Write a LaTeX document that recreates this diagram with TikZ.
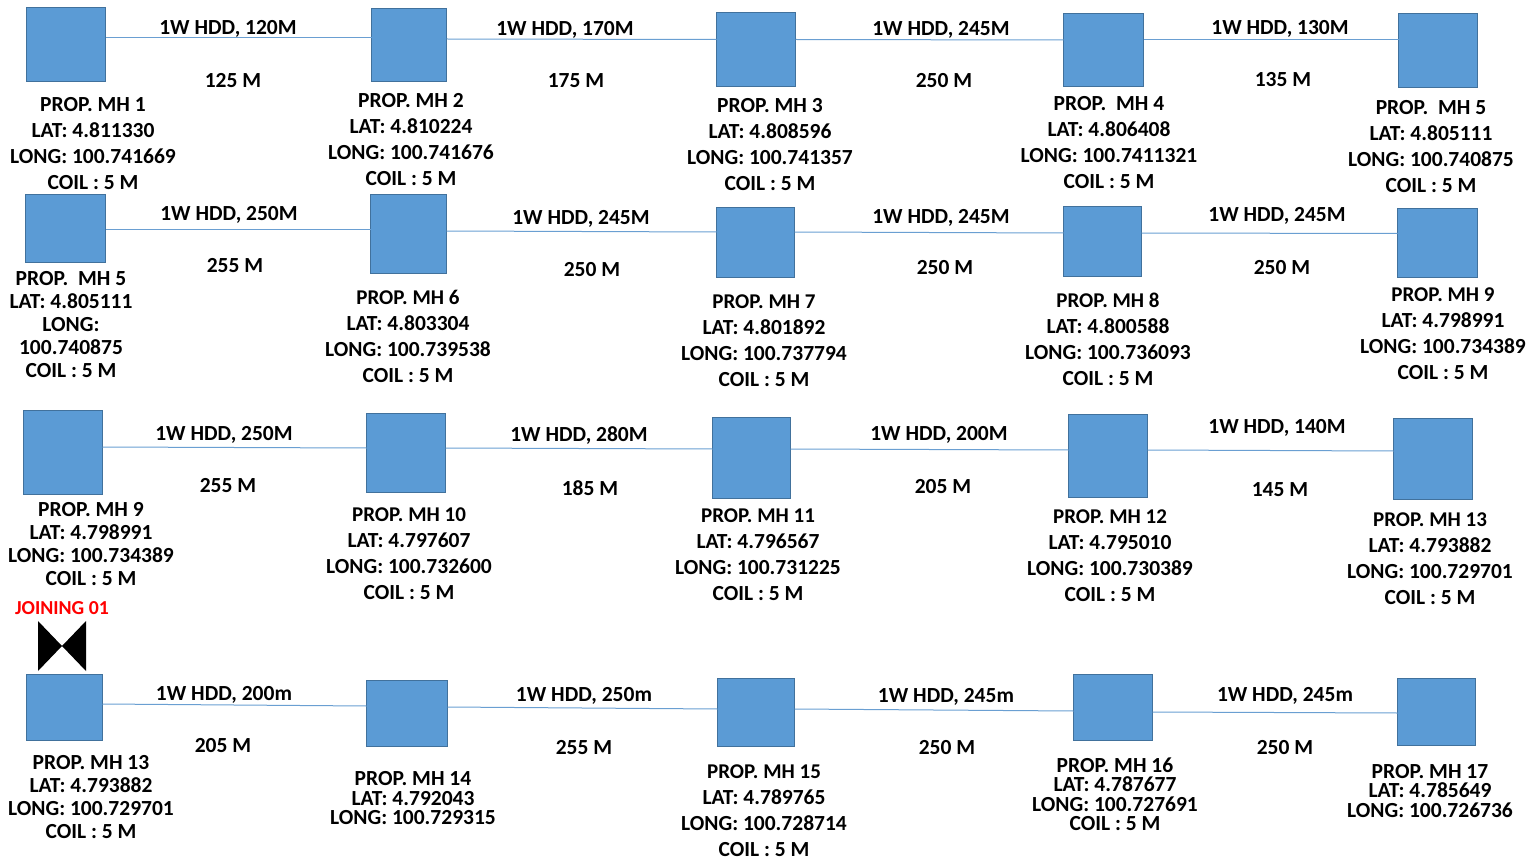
\documentclass[tikz,border=0pt]{standalone}
\usepackage{fontspec}
\setmainfont{Carlito}
\usetikzlibrary{positioning,calc}
\definecolor{mhBlue}{HTML}{5B9BD5}
\definecolor{mhEdge}{HTML}{41719C}
\definecolor{hddLine}{HTML}{6A9FD2}

\begin{document}
\begin{tikzpicture}[x=1pt, y=-1pt,
          mh/.style={draw=mhEdge, line width=1.4pt, fill=mhBlue, inner sep=0pt, outer sep=0pt},
          hdd/.style={draw=hddLine, line width=1pt},
          txt/.style={font=\fontsize{21.5}{24}\bfseries\selectfont, text=black, inner sep=0pt, yshift=-1.5pt},
          mhlabel/.style={font=\fontsize{21.5}{26}\bfseries\selectfont, align=center, inner sep=0pt, yshift=-1pt},
          mhtight/.style={font=\fontsize{21.5}{23}\bfseries\selectfont, align=center, inner sep=0pt, yshift=-1pt},
          mhtighter/.style={font=\fontsize{21.5}{19.5}\bfseries\selectfont, align=center, inner sep=0pt, yshift=-1pt}]
        \useasboundingbox (0,0) rectangle (1532,861);
        % chambers
        \foreach \n/\x/\y/\w/\h in {mha/66/44.5/80/75, mhb/409/45/76/74, mhc/756/49.5/80/75, mhd/1103.5/50/81/74, mhe/1438/50.5/80/75,
            mhf/65.5/228.5/81/69, mhg/408.5/234/77/80, mhh/755.5/242.5/79/71, mhi/1102.5/241.5/79/71, mhj/1437.5/243/81/70,
            mhk/63/452.5/80/85, mhl/406/453/80/80, mhm/751.5/458/79/82, mhn/1108/456/80/84, mho/1433/459/80/82,
            mhp/64.5/707.5/77/67, mhq/407/713.5/82/67, mhr/756/712.5/78/69, mhs/1113/707.5/80/67, mht/1436.5/712/79/68} {
          \node[mh, minimum width=\w pt-1pt, minimum height=\h pt-1pt] (\n) at (\x,\y) {};
        }
        % hdd runs
        \foreach \a/\b/\sa/\sb in {mha/mhb/6.5/7, mhb/mhc/6/10, mhc/mhd/10/10, mhd/mhe/10/10.5,
            mhf/mhg/-1.5/4, mhg/mhh/3/10.5, mhh/mhi/10.5/8.5, mhi/mhj/8.5/9.5,
            mhk/mhl/5.5/5, mhl/mhm/5/9, mhm/mhn/9/6, mhn/mho/6/8,
            mhp/mhq/3.5/7.5, mhq/mhr/6.5/3.5, mhr/mhs/3.5/-3.5, mhs/mht/-4.5/-1} {
          \draw[hdd] ([yshift=\sa pt]\a.east) -- ([yshift=\sb pt]\b.west);
        }
        % run labels
        \foreach \x/\y/\s in {228/27.5/{1W HDD, 120M}, 565/28.5/{1W HDD, 170M}, 941/28.5/{1W HDD, 245M}, 1280/27.5/{1W HDD, 130M},
            229/213.5/{1W HDD, 250M}, 581/217.5/{1W HDD, 245M}, 941/216.5/{1W HDD, 245M}, 1277/214.5/{1W HDD, 245M},
            224/433.5/{1W HDD, 250M}, 579/434.5/{1W HDD, 280M}, 939/433.5/{1W HDD, 200M}, 1277/426.5/{1W HDD, 140M},
            224/693.5/{1W HDD, 200m}, 584/694.5/{1W HDD, 250m}, 946/695.5/{1W HDD, 245m}, 1285/694.5/{1W HDD, 245m},
            233/79.5/125 M, 576/79.5/175 M, 944/79.5/250 M, 1283/78.5/135 M,
            235/264.5/255 M, 592/268.5/250 M, 945/266.5/250 M, 1282/266.5/250 M,
            228/484.5/255 M, 590/486.5/185 M, 943/485.5/205 M, 1280/488.5/145 M,
            223/744.5/205 M, 584/746.5/255 M, 947/746.5/250 M, 1285/746.5/250 M} {
          \node[txt] at (\x,\y) {\s};
        }
        % chamber labels
        \foreach \n/\x/\y/\lbl/\sz/\lat/\lon in {la/93/143/{PROP. MH 1}/21.5/4.811330/100.741669, lb/411/138.5/{PROP. MH 2}/21.5/4.810224/100.741676,
            lc/770/143.5/{PROP. MH 3}/21.5/4.808596/100.741357, ld/1109/142/{PROP.~~MH 4}/21.5/4.806408/100.7411321, le/1431/145.5/{PROP.~~MH 5}/21.5/4.805111/100.740875,
            lg/408/335/{PROP. MH 6}/21/4.803304/100.739538, lh/764/340/{PROP. MH 7}/21/4.801892/100.737794,
            li/1108/338/{PROP. MH 8}/21/4.800588/100.736093, lj/1443/332.5/{PROP. MH 9}/21/4.798991/100.734389,
            ll/409/553/{PROP. MH 10}/21/4.797607/100.732600, lm/758/554/{PROP. MH 11}/21/4.796567/100.731225,
            ln/1110/555/{PROP. MH 12}/21/4.795010/100.730389, lo/1430/557.5/{PROP. MH 13}/21/4.793882/100.729701,
            lr/764/809.5/{PROP. MH 15}/21/4.789765/100.728714} {
          \node[mhlabel] (\n) at (\x,\y) {{\fontsize{\sz}{26}\selectfont \lbl}\\LAT: \lat\\LONG: \lon\\COIL : 5 M};
        }
        \node[mhtight] (lf) at (71,324) {PROP.~~MH 5\\LAT: 4.805111\\LONG:\\100.740875\\COIL : 5 M};
        \node[mhtight] (lk) at (91,543) {PROP. MH 9\\LAT: 4.798991\\LONG: 100.734389\\COIL : 5 M};
        \node[mhtight] (lp) at (91,796.5) {PROP. MH 13\\LAT: 4.793882\\LONG: 100.729701\\COIL : 5 M};
        \node[mhtighter] (lq) at (413,797.5) {PROP. MH 14\\LAT: 4.792043\\LONG: 100.729315};
        \node[mhtighter] (ls) at (1115,793) {PROP. MH 16\\LAT: 4.787677\\LONG: 100.727691\\COIL : 5 M};
        \node[mhtighter] (lt) at (1430,790) {PROP. MH 17\\LAT: 4.785649\\LONG: 100.726736};
        % joining
        \coordinate (joint) at (62,646);
        \fill[black] (joint) -- ++(-24,-25) -- ++(0,50) -- cycle;
        \fill[black] (joint) -- ++(24,-25) -- ++(0,50) -- cycle;
        \node[txt, text=red, font=\fontsize{19.8}{22}\bfseries\selectfont] (joinlabel) at (62,606.5) {JOINING 01};
      \end{tikzpicture}
\end{document}
